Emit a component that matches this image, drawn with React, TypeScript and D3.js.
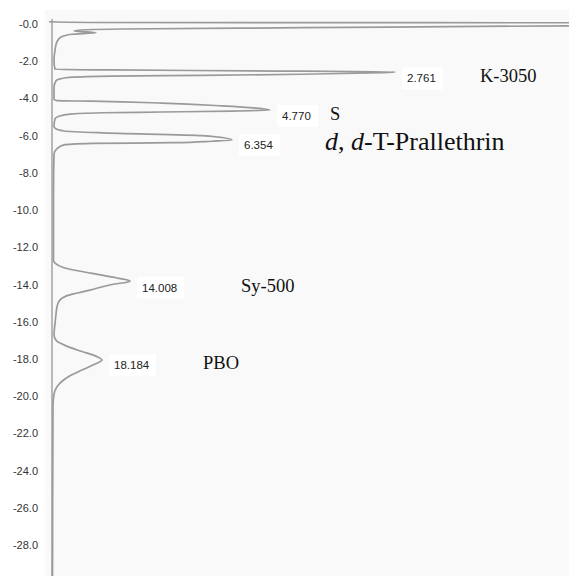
import React, { useEffect, useRef } from 'react'
import * as d3 from 'd3'

// retention time axis (min), drawn downward
const tickValues = [0, 2, 4, 6, 8, 10, 12, 14, 16, 18, 20, 22, 24, 26, 28]

// detector trace: time (min) and signal (a.u.)
const traceTime = [
  -0.12, -0.08, -0.06, 0.02, 0.08, 0.2, 0.27, 0.31, 0.37, 0.47, 0.55, 0.7, 0.95, 1.4, 2.0,
  2.44, 2.47, 2.52, 2.58, 2.62, 2.7, 2.76, 2.8, 2.86, 2.95, 3.05, 3.4, 4.05,
  4.12, 4.15, 4.25, 4.4, 4.55, 4.62, 4.68, 4.73, 4.77, 4.84, 4.96, 5.1, 5.5,
  5.6, 5.75, 5.85, 6.0, 6.24, 6.3, 6.38, 6.42, 6.5, 6.7, 7.0, 9.0, 12.0,
  12.7, 12.85, 13.1, 13.4, 13.65, 13.82, 14.0, 14.3, 14.6, 14.9, 15.2, 15.6, 16.1,
  16.7, 17.0, 17.3, 17.6, 17.85, 18.06, 18.3, 18.6, 18.9, 19.2, 19.5, 19.9, 20.5, 29.9,
]
const traceSignal = [
  -3, 40, 720, 720, 560, 250, 70, 35, 22, 44, 20, 9, 5, 3, 2,
  3, 60, 200, 343, 330, 250, 150, 60, 20, 8, 4, 2, 2,
  5, 40, 110, 170, 210, 218, 180, 110, 50, 18, 7, 3, 2,
  3, 12, 50, 150, 180, 160, 120, 40, 12, 5, 2, 1.5, 1.5,
  1.5, 3, 12, 40, 65, 78, 60, 38, 15, 7, 5, 4, 3,
  2, 4, 14, 30, 44, 50, 42, 30, 18, 10, 5, 2, 1, 0.5,
]

// peak annotations
const peakTimes = [2.761, 4.77, 6.354, 14.008, 18.184]
const peakSignals = [343, 218, 180, 78, 50]
const peakNames = ['K-3050', 'S', 'd, d-T-Prallethrin', 'Sy-500', 'PBO']

// layout only: where the compound names sit (px)
const nameX = [480, 330, 325, 241, 203]
const nameSize = [18.5, 18.5, 26, 18.5, 18.5]

export default function App() {
  const ref = useRef<SVGSVGElement>(null)

  useEffect(() => {
    const W = 569
    const H = 576
    const svg = d3.select(ref.current)
    svg.selectAll('*').remove()
    svg.attr('width', W).attr('height', H)

    const y = d3.scaleLinear().domain([0, 28]).range([24, 545])
    const x = d3.scaleLinear().domain([0, 517]).range([52, 569])

    svg.append('rect').attr('width', W).attr('height', H).attr('fill', '#ffffff')
    svg.append('rect').attr('x', 45).attr('y', 10).attr('width', W - 45).attr('height', H - 10).attr('fill', '#f9f9f9')

    svg.append('clipPath').attr('id', 'plotclip')
      .append('rect').attr('x', 44).attr('y', 10).attr('width', W - 44).attr('height', H - 10)

    // tick labels
    svg.append('g')
      .selectAll('text')
      .data(tickValues)
      .join('text')
      .attr('x', 38)
      .attr('y', d => y(d) + 4)
      .attr('text-anchor', 'end')
      .attr('font-family', 'Liberation Sans, Arial, sans-serif')
      .attr('font-size', 11)
      .attr('fill', '#333')
      .text(d => `-${d.toFixed(1)}`)

    // signal axis baseline
    svg.append('line')
      .attr('x1', x(0)).attr('x2', x(0))
      .attr('y1', 19).attr('y2', H)
      .attr('stroke', '#a8a8a8').attr('stroke-width', 1.6)

    const pts: [number, number][] = traceTime.map((t, i) => [traceSignal[i], t])
    const line = d3.line<[number, number]>()
      .x(d => x(d[0]))
      .y(d => y(d[1]))
      .curve(d3.curveMonotoneY)

    svg.append('path')
      .datum(pts)
      .attr('clip-path', 'url(#plotclip)')
      .attr('d', line)
      .attr('fill', 'none')
      .attr('stroke', '#9a9a9a')
      .attr('stroke-width', 1.7)

    // peak labels
    const lab = svg.append('g')
    peakTimes.forEach((t, i) => {
      const by = y(t) + 7
      const tx = x(peakSignals[i]) + 12
      const num = t.toFixed(3)
      lab.append('rect')
        .attr('x', tx - 5).attr('y', by - 15)
        .attr('width', num.length * 6.2 + 10).attr('height', 22)
        .attr('fill', '#ffffff')
      lab.append('text')
        .attr('x', tx).attr('y', by)
        .attr('font-family', 'Liberation Sans, Arial, sans-serif')
        .attr('font-size', 11.5)
        .attr('fill', '#222')
        .text(num)

      const nm = lab.append('text')
        .attr('x', nameX[i]).attr('y', by + (i === 2 ? 1 : 0))
        .attr('font-family', 'Liberation Serif, Times New Roman, serif')
        .attr('font-size', nameSize[i])
        .attr('fill', '#111')
      const name = peakNames[i]
      if (name.startsWith('d, d-')) {
        nm.append('tspan').attr('font-style', 'italic').text('d')
        nm.append('tspan').text(', ')
        nm.append('tspan').attr('font-style', 'italic').text('d')
        nm.append('tspan').text(name.slice(4))
      } else {
        nm.text(name)
      }
    })
  }, [])

  return (
    <div style={{ position: 'fixed', left: 0, top: 0 }}>
      <svg ref={ref} style={{ display: 'block' }}></svg>
    </div>
  )
}
